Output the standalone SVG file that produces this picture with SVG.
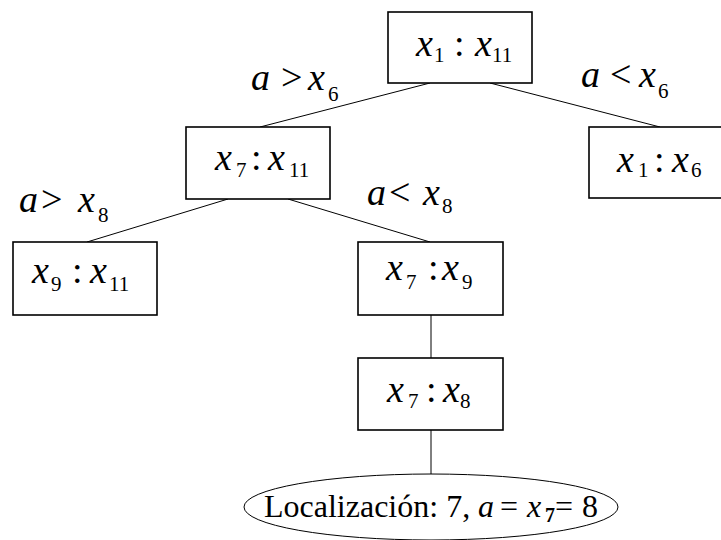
<svg xmlns="http://www.w3.org/2000/svg" width="721" height="540" viewBox="0 0 721 540">
<style>
  .box { fill: #fff; stroke: #000; stroke-width: 1.6; }
  .edge { stroke: #000; stroke-width: 1; fill: none; }
  text, tspan { font-family: "Liberation Serif", "Times New Roman", serif; fill: #000; }
  .m { font-size: 38px; }
  .i { font-style: italic; }
  .s { font-size: 21px; font-style: normal; }
  .e { font-size: 32px; }
</style>
<rect width="721" height="540" fill="#fff"/>
<g id="connectors">
  <line class="edge" x1="430" y1="83" x2="260" y2="127"/>
  <line class="edge" x1="490" y1="83" x2="660" y2="127"/>
  <line class="edge" x1="228" y1="199" x2="87" y2="242"/>
  <line class="edge" x1="288" y1="199" x2="430" y2="242"/>
  <line class="edge" x1="431" y1="315" x2="431" y2="358"/>
  <line class="edge" x1="431" y1="430" x2="431" y2="474"/>
</g>
<g id="labels">
  <text class="m"><tspan class="i" x="251" y="90">a</tspan><tspan x="281" y="90">&gt;</tspan><tspan class="i" x="308" y="90">x</tspan><tspan class="s" x="328" y="101">6</tspan></text>
  <text class="m"><tspan class="i" x="581" y="87">a</tspan><tspan x="610" y="87">&lt;</tspan><tspan class="i" x="639" y="87">x</tspan><tspan class="s" x="658" y="98">6</tspan></text>
  <text class="m"><tspan class="i" x="19" y="212">a</tspan><tspan x="41" y="212">&gt;</tspan><tspan class="i" x="78" y="212">x</tspan><tspan class="s" x="98" y="222">8</tspan></text>
  <text class="m"><tspan class="i" x="367" y="205">a</tspan><tspan x="389" y="205">&lt;</tspan><tspan class="i" x="423" y="205">x</tspan><tspan class="s" x="442" y="213">8</tspan></text>
</g>
<g id="n1">
  <rect class="box" x="388" y="12" width="144" height="71"/>
  <text class="m"><tspan class="i" x="416" y="56">x</tspan><tspan class="s" x="434" y="62">1</tspan><tspan x="454" y="56">:</tspan><tspan class="i" x="475" y="56">x</tspan><tspan class="s" x="492" y="62">11</tspan></text>
</g>
<g id="n2">
  <rect class="box" x="186" y="127" width="144" height="72"/>
  <text class="m"><tspan class="i" x="215" y="170">x</tspan><tspan class="s" x="236" y="177">7</tspan><tspan x="251" y="170">:</tspan><tspan class="i" x="268" y="170">x</tspan><tspan class="s" x="289" y="177">11</tspan></text>
</g>
<g id="n3">
  <rect class="box" x="589" y="127" width="146" height="71"/>
  <text class="m"><tspan class="i" x="617" y="172">x</tspan><tspan class="s" x="638" y="177">1</tspan><tspan x="654" y="172">:</tspan><tspan class="i" x="672" y="172">x</tspan><tspan class="s" x="691" y="177">6</tspan></text>
</g>
<g id="n4">
  <rect class="box" x="13" y="242" width="144" height="73"/>
  <text class="m"><tspan class="i" x="32" y="283">x</tspan><tspan class="s" x="51" y="291">9</tspan><tspan x="72" y="283">:</tspan><tspan class="i" x="90" y="283">x</tspan><tspan class="s" x="109" y="291">11</tspan></text>
</g>
<g id="n5">
  <rect class="box" x="358" y="242" width="145" height="73"/>
  <text class="m"><tspan class="i" x="386" y="280">x</tspan><tspan class="s" x="406" y="289">7</tspan><tspan x="428" y="280">:</tspan><tspan class="i" x="442" y="280">x</tspan><tspan class="s" x="462" y="289">9</tspan></text>
</g>
<g id="n6">
  <rect class="box" x="358" y="358" width="145" height="72"/>
  <text class="m"><tspan class="i" x="387" y="402">x</tspan><tspan class="s" x="408" y="408">7</tspan><tspan x="426" y="402">:</tspan><tspan class="i" x="443" y="402">x</tspan><tspan class="s" x="460" y="408">8</tspan></text>
</g>
<g id="n7">
  <ellipse cx="431" cy="507" rx="187" ry="33" fill="#fff" stroke="#000" stroke-width="1"/>
  <text class="e"><tspan x="264" y="517">Localización: 7,</tspan><tspan class="i" x="478" y="517">a</tspan><tspan x="500" y="517">=</tspan><tspan class="i" x="527" y="517">x</tspan><tspan x="545" y="522" style="font-size:20px;font-weight:bold">7</tspan><tspan x="555" y="517">=</tspan><tspan x="582" y="517">8</tspan></text>
</g>
</svg>
